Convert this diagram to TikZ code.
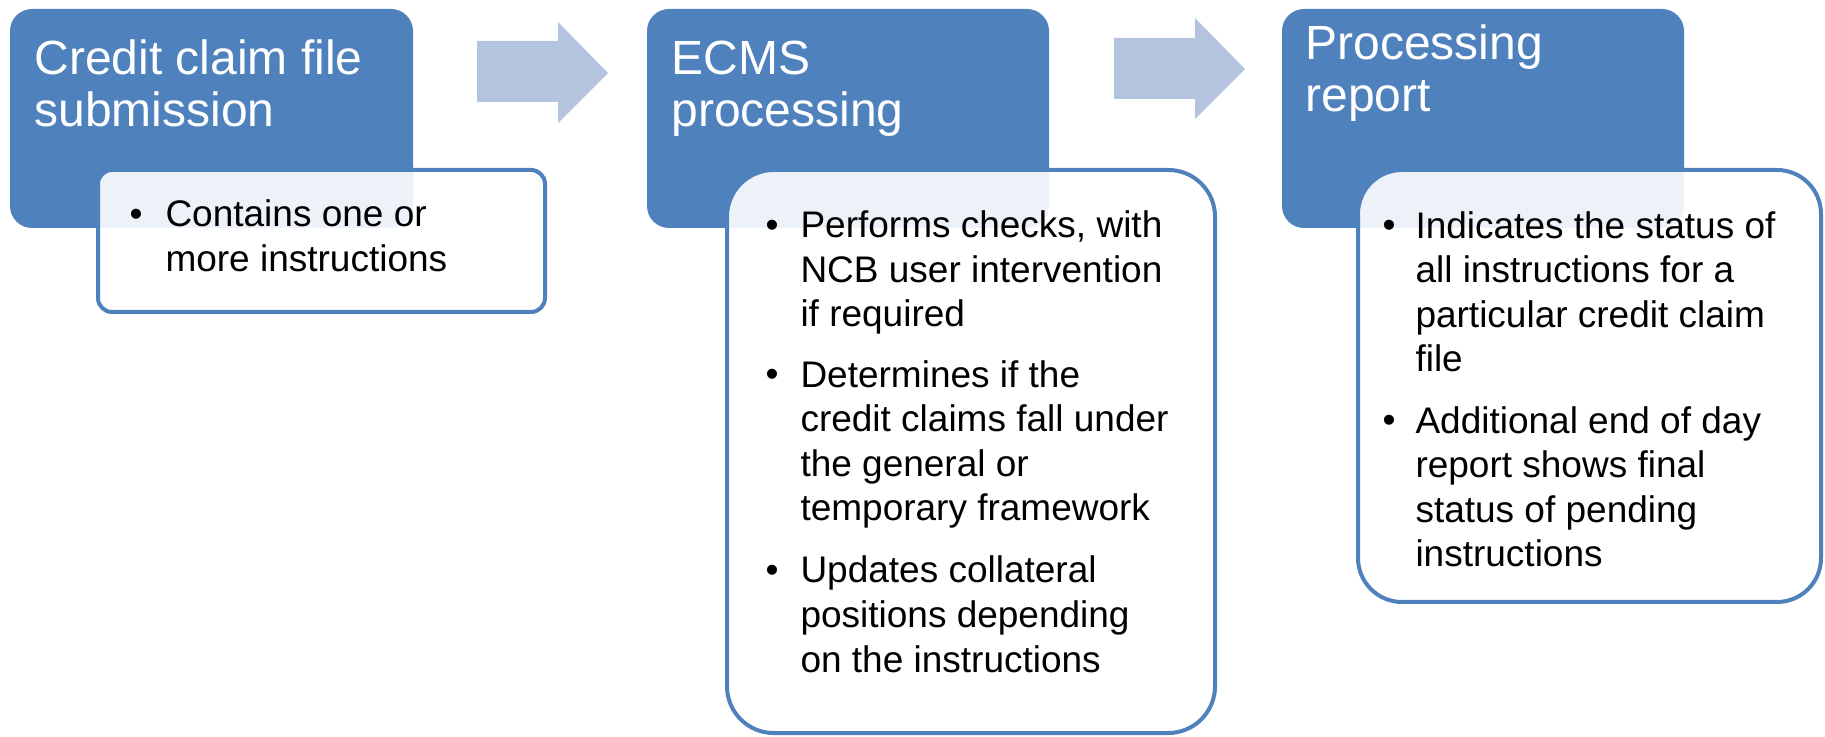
\documentclass[tikz,border=0pt]{standalone}
\usepackage{fontspec}
\setmainfont{Liberation Sans}

\definecolor{stageblue}{RGB}{79,129,189}
\definecolor{arrowblue}{RGB}{180,196,222}
\newcommand{\titlefont}{\fontsize{36pt}{39pt}\selectfont}
\newcommand{\itemfont}{\fontsize{27.75pt}{33.4pt}\selectfont}

\tikzset{every picture/.style={line width=0.75pt}}
\tikzset{
  stage/.style={fill=stageblue, draw=none, rounded corners=16.5pt},
  detail/.style={fill=white, fill opacity=0.9, draw=stageblue, line width=3pt},
  stagetitle/.style={anchor=base west, inner sep=0pt, align=left, font=\titlefont, text=white},
  itemtext/.style={anchor=base west, inner sep=0pt, align=left, font=\itemfont, text=black},
  dotmark/.style={anchor=base west, inner sep=0pt, font=\itemfont, text=black},
  flow/.style={fill=arrowblue, draw=none}
}

\begin{document}
\begin{tikzpicture}[x=0.75pt,y=0.75pt,yscale=-1,xscale=1]
\useasboundingbox (0,0) rectangle (1825,737);

%Shape: Rounded Rect (stage 1)
\draw [stage] (10,9) rectangle (413,228) ;
%Shape: Rounded Rect (details 1)
\draw [detail, rounded corners=10.5pt] (98,170) rectangle (545,312) ;
%Shape: Right Arrow
\draw [flow] (477,41) -- (558,41) -- (558,22) -- (608,73) -- (558,123) -- (558,102) -- (477,102) -- cycle ;

%Shape: Rounded Rect (stage 2)
\draw [stage] (647,9) rectangle (1049,228) ;
%Shape: Rounded Rect (details 2)
\draw [detail, rounded corners=35pt] (727,170) rectangle (1215,733) ;
%Shape: Right Arrow
\draw [flow] (1114,38) -- (1195,38) -- (1195,18) -- (1245,69) -- (1195,119) -- (1195,99) -- (1114,99) -- cycle ;

%Shape: Rounded Rect (stage 3)
\draw [stage] (1282,9) rectangle (1684,228) ;
%Shape: Rounded Rect (details 3)
\draw [detail, rounded corners=33pt] (1358,170) rectangle (1821,602) ;

% Text Node (anchored on the last line)
\draw (34,127) node [stagetitle] (title1) {Credit claim file\\submission};
% Text Node
\draw (671,127) node [stagetitle] (title2) {ECMS\\processing};
% Text Node
\draw (1305,112) node [stagetitle] (title3) {Processing\\report};

% Text Node
\draw (165,271.5) node [itemtext] (item1a) {Contains one or\\more instructions};
\draw (129,227) node [dotmark] (dot1a) {•};

% Text Node
\draw (800,327) node [itemtext] (item2a) {Performs checks, with\\NCB user intervention\\if required};
\draw (765,238) node [dotmark] (dot2a) {•};
% Text Node
\draw (800,521) node [itemtext] (item2b) {Determines if the\\credit claims fall under\\the general or\\temporary framework};
\draw (765,387) node [dotmark] (dot2b) {•};
% Text Node
\draw (800,672) node [itemtext] (item2c) {Updates collateral\\positions depending\\on the instructions};
\draw (765,583) node [dotmark] (dot2c) {•};

% Text Node
\draw (1415,372) node [itemtext] (item3a) {Indicates the status of\\all instructions for a\\particular credit claim\\file};
\draw (1382,238) node [dotmark] (dot3a) {•};
% Text Node
\draw (1415,567) node [itemtext] (item3b) {Additional end of day\\report shows final\\status of pending\\instructions};
\draw (1382,433) node [dotmark] (dot3b) {•};

\end{tikzpicture}
\end{document}
